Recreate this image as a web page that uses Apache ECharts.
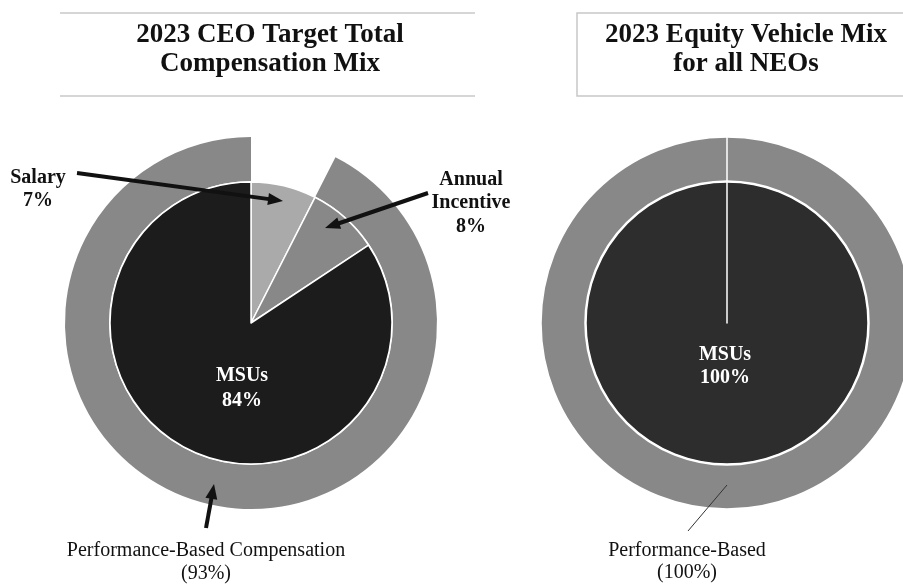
<!DOCTYPE html>
<html>
<head>
<meta charset="utf-8">
<script src="https://cdn.jsdelivr.net/npm/echarts@6/dist/echarts.min.js"></script>
<style>
html,body{margin:0;padding:0;background:#fff;}
#chart{width:903px;height:584px;}
</style>
</head>
<body>
<div id="chart"></div>
<script>
// ---- data ----
const ceoTitle = '2023 CEO Target Total\nCompensation Mix';
const neoTitle = '2023 Equity Vehicle Mix\nfor all NEOs';
const ceoCategories = ['Salary', 'Annual Incentive', 'MSUs'];
const ceoValues = [7.5, 8.2, 84.3];
const ceoLabels = ['Salary\n7%', 'Annual\nIncentive\n8%', 'MSUs\n84%'];
const ceoOuterCategories = ['Fixed', 'Performance-Based Compensation'];
const ceoOuterValues = [7.5, 92.5];
const ceoOuterLabel = 'Performance-Based Compensation\n(93%)';
const neoCategories = ['MSUs', ''];
const neoValues = [100, 0];
const neoLabel = 'MSUs\n100%';
const neoOuterCategories = ['Performance-Based', ''];
const neoOuterValues = [100, 0];
const neoOuterLabel = 'Performance-Based\n(100%)';

// ---- styles / layout ----
const SERIF = '"Liberation Serif", "DejaVu Serif", serif';
const ceoColors = ['#aaaaaa', '#888888', '#1c1c1c'];
const ringColor = '#888888';
const neoColor = '#2d2d2d';
const leftCenter = [251, 323];
const rightCenter = [727, 323];
const innerR = 141;
const ringR = [142, 186];

const ceoLabelPos = [
  {x: 38, y: 189.5, lh: 23, color: '#111'},
  {x: 471, y: 203, lh: 23.5, color: '#111'},
  {x: 242, y: 388.5, lh: 25, color: '#fff'}
];

const chart = echarts.init(document.getElementById('chart'), null, {renderer: 'canvas'});

function arrow(x1, y1, x2, y2, w, hl, hw) {
  const dx = x2 - x1, dy = y2 - y1;
  const L = Math.sqrt(dx * dx + dy * dy);
  const ux = dx / L, uy = dy / L;
  const bx = x2 - ux * hl, by = y2 - uy * hl;
  const px = -uy, py = ux;
  return [
    {type: 'line', silent: true, z: 100, shape: {x1: x1, y1: y1, x2: bx + ux * 1, y2: by + uy * 1},
      style: {stroke: '#111', lineWidth: w}},
    {type: 'polygon', silent: true, z: 100,
      shape: {points: [[x2, y2], [bx + px * hw, by + py * hw], [bx - px * hw, by - py * hw]]},
      style: {fill: '#111'}}
  ];
}

const titleStyle = {
  font: 'bold 27px ' + SERIF, fill: '#111', align: 'center', verticalAlign: 'middle', lineHeight: 29
};

const graphics = [
  {type: 'line', silent: true, z: 100, shape: {x1: 60, y1: 13, x2: 475, y2: 13}, style: {stroke: '#c8c8c8', lineWidth: 1.5}},
  {type: 'line', silent: true, z: 100, shape: {x1: 60, y1: 96, x2: 475, y2: 96}, style: {stroke: '#c8c8c8', lineWidth: 1.5}},
  {type: 'rect', silent: true, z: 100, shape: {x: 577, y: 13, width: 360, height: 83}, style: {fill: 'none', stroke: '#c8c8c8', lineWidth: 1.5}},
  {type: 'text', silent: true, z: 100, x: 270, y: 50, style: Object.assign({text: ceoTitle}, titleStyle)},
  {type: 'text', silent: true, z: 100, x: 746, y: 50, style: Object.assign({text: neoTitle}, titleStyle)},
  {type: 'line', silent: true, z: 100, shape: {x1: 688, y1: 531, x2: 727, y2: 485}, style: {stroke: '#333', lineWidth: 1}}
].concat(
  arrow(77, 173, 283, 201, 4, 15, 6),
  arrow(428, 193, 325, 228, 4, 15, 6),
  arrow(206, 528, 214, 484, 4, 15, 6)
);

const baseLabel = {fontFamily: SERIF, fontSize: 20, fontWeight: 'bold', overflow: 'none'};

const option = {
  backgroundColor: '#ffffff',
  animation: false,
  graphic: graphics,
  series: [
    {
      type: 'pie', silent: true, center: leftCenter, radius: ringR, startAngle: 90, clockwise: true,
      itemStyle: {borderColor: '#fff', borderWidth: 0},
      labelLine: {show: false},
      data: ceoOuterCategories.map((n, i) => ({
        name: n, value: ceoOuterValues[i],
        itemStyle: {color: i === 0 ? 'rgba(255,255,255,0)' : ringColor},
        label: i === 0 ? {show: false} : {
          show: true, position: 'outside', formatter: ceoOuterLabel, overflow: 'none', width: 400,
          fontFamily: SERIF, fontSize: 20, color: '#111', lineHeight: 22.5, align: 'center'
        }
      })),
      labelLayout: function () { return {x: 206, y: 562, align: 'center', verticalAlign: 'middle'}; }
    },
    {
      type: 'pie', silent: true, center: leftCenter, radius: [0, innerR], startAngle: 90, clockwise: true,
      itemStyle: {borderColor: '#fff', borderWidth: 1.5},
      labelLine: {show: false},
      data: ceoCategories.map((n, i) => ({
        name: n, value: ceoValues[i],
        itemStyle: {color: ceoColors[i]},
        label: Object.assign({
          show: true, position: 'outside', formatter: ceoLabels[i],
          color: ceoLabelPos[i].color, lineHeight: ceoLabelPos[i].lh, align: 'center'
        }, baseLabel)
      })),
      labelLayout: function (p) {
        const q = ceoLabelPos[p.dataIndex];
        return {x: q.x, y: q.y, align: 'center', verticalAlign: 'middle'};
      }
    },
    {
      type: 'pie', silent: true, center: rightCenter, radius: ringR, startAngle: 90, clockwise: true,
      itemStyle: {borderColor: '#fff', borderWidth: 1.5},
      labelLine: {show: false},
      data: neoOuterCategories.map((n, i) => ({
        name: n, value: neoOuterValues[i],
        itemStyle: {color: ringColor},
        label: i === 1 ? {show: false} : {
          show: true, position: 'outside', formatter: neoOuterLabel, overflow: 'none', width: 300,
          fontFamily: SERIF, fontSize: 20, color: '#111', lineHeight: 22.5, align: 'center'
        }
      })),
      labelLayout: function () { return {x: 687, y: 561.5, align: 'center', verticalAlign: 'middle'}; }
    },
    {
      type: 'pie', silent: true, center: rightCenter, radius: [0, innerR], startAngle: 90, clockwise: true,
      itemStyle: {borderColor: '#fff', borderWidth: 1.5},
      labelLine: {show: false},
      data: neoCategories.map((n, i) => ({
        name: n, value: neoValues[i],
        itemStyle: {color: neoColor},
        label: i === 1 ? {show: false} : Object.assign({
          show: true, position: 'outside', formatter: neoLabel,
          color: '#fff', lineHeight: 23, align: 'center'
        }, baseLabel)
      })),
      labelLayout: function () { return {x: 725, y: 366.5, align: 'center', verticalAlign: 'middle'}; }
    }
  ]
};
chart.setOption(option);
</script>
</body>
</html>
